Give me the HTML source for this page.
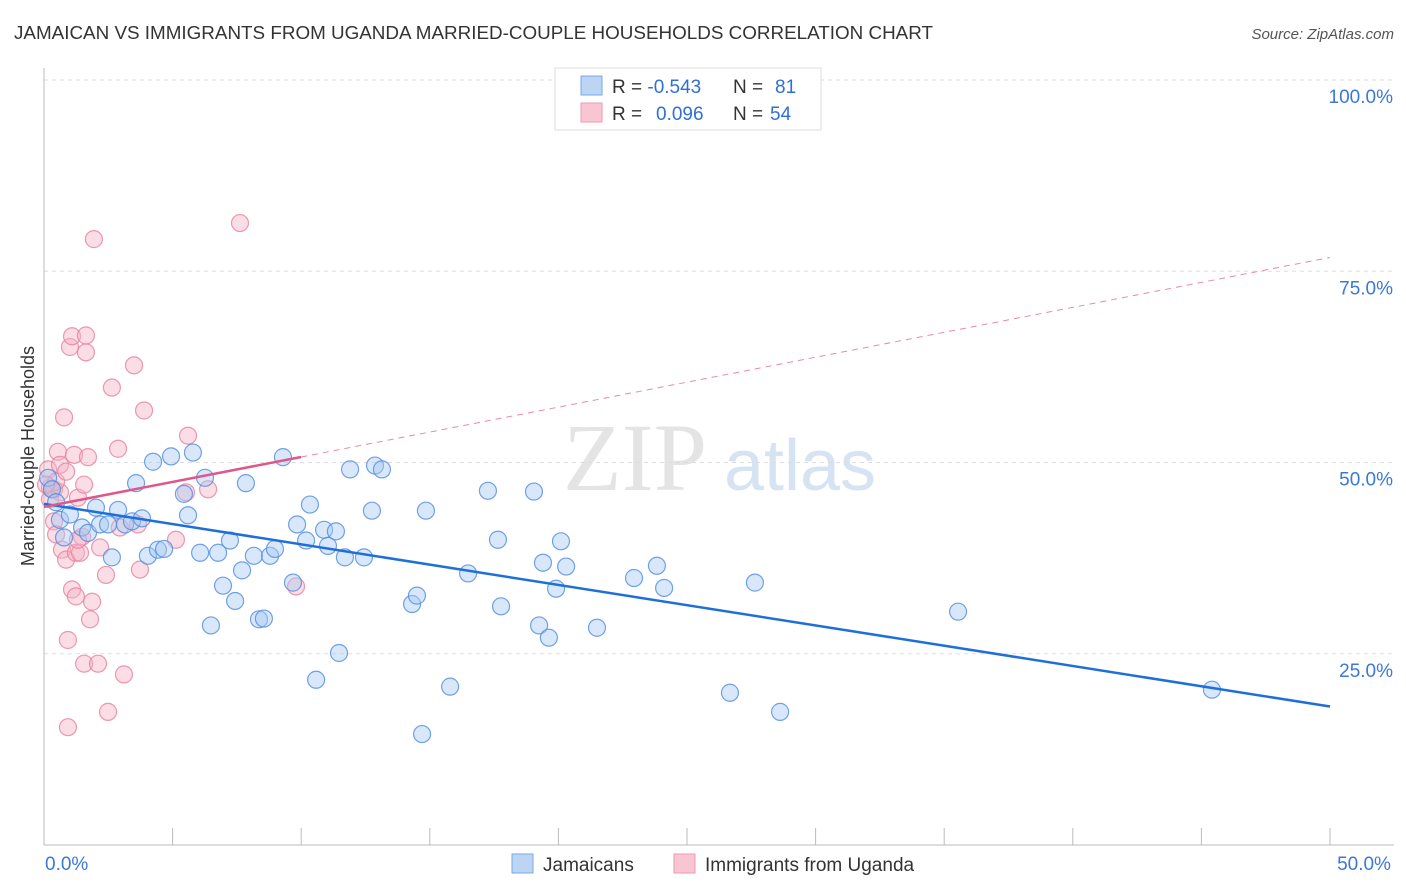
<!DOCTYPE html>
<html><head><meta charset="utf-8"><style>
body{margin:0;background:#fff;font-family:"Liberation Sans",sans-serif}
svg{display:block}
</style></head><body>
<svg id="chart" width="1406" height="892" xmlns="http://www.w3.org/2000/svg">
<text x="14" y="39" font-size="18" fill="#333" textLength="919" lengthAdjust="spacingAndGlyphs">JAMAICAN VS IMMIGRANTS FROM UGANDA MARRIED-COUPLE HOUSEHOLDS CORRELATION CHART</text>
<text x="1394" y="39" font-size="15" fill="#555" font-style="italic" text-anchor="end">Source: ZipAtlas.com</text>
<text x="635" y="490" font-size="96" fill="#e4e4e4" font-family="Liberation Serif,serif" text-anchor="middle">ZIP</text>
<text x="800" y="490" font-size="72" fill="#d6e3f3" text-anchor="middle">atlas</text>
<text transform="translate(34,456) rotate(-90)" font-size="18" fill="#333" text-anchor="middle">Married-couple Households</text>
<g id="grid"></g><g id="marks"></g><g id="lines"></g>
<g>
<rect x="555" y="68" width="266" height="62" fill="#fff" stroke="#ddd"/>
<rect x="581" y="76" width="21" height="19" fill="#bcd5f5" stroke="#7aa8e6"/>
<rect x="581" y="103" width="21" height="19" fill="#f9c5d3" stroke="#ec9ab2"/>
<text x="612" y="93" font-size="19" fill="#333">R = <tspan fill="#2f6fd6">-0.543</tspan><tspan x="733">N = </tspan><tspan x="775" fill="#2f6fd6">81</tspan></text>
<text x="612" y="120" font-size="19" fill="#333">R = <tspan x="656" fill="#2f6fd6">0.096</tspan><tspan x="733">N = </tspan><tspan x="770" fill="#2f6fd6">54</tspan></text>
</g>
<g>
<rect x="512" y="854" width="21" height="19" fill="#bcd5f5" stroke="#7aa8e6"/>
<text x="543" y="871" font-size="19" fill="#333">Jamaicans</text>
<rect x="674" y="854" width="21" height="19" fill="#f9c5d3" stroke="#ec9ab2"/>
<text x="705" y="871" font-size="19" fill="#333">Immigrants from Uganda</text>
</g>
</svg>
<script>
const yTicks=[100,75,50,25];
const yTickLabels=["100.0%","75.0%","50.0%","25.0%"];
const xTickLabels=["0.0%","50.0%"];
const blueX=[0.16,0.31,0.47,0.62,0.78,1.01,1.48,1.71,2.02,2.18,2.49,2.64,2.88,3.15,3.42,3.58,3.81,4.04,4.24,4.43,4.67,4.94,5.44,5.60,5.79,6.07,6.26,6.49,6.77,6.96,7.23,7.43,7.70,7.85,8.16,8.36,8.55,8.79,8.98,9.29,9.68,9.84,10.19,10.34,10.58,10.89,11.04,11.35,11.47,11.70,11.90,12.44,12.75,12.87,13.14,14.31,14.50,14.70,14.85,15.79,16.49,17.26,17.65,17.77,19.05,19.25,19.40,19.63,19.91,20.10,20.30,21.50,22.94,23.83,24.11,26.67,27.64,28.62,35.54,45.41];
const blueY=[48.0,46.5,44.8,42.5,40.2,43.2,41.5,40.8,44.1,41.9,41.9,37.6,43.8,41.9,42.3,47.3,42.7,37.8,50.1,38.6,38.7,50.8,45.9,43.1,51.3,38.2,48.0,28.7,38.2,33.9,39.8,31.9,35.9,47.3,37.8,29.5,29.6,37.8,38.7,50.7,34.3,41.9,39.8,44.5,21.6,41.2,39.1,41.0,25.1,37.6,49.1,37.6,43.7,49.6,49.1,31.5,32.6,14.5,43.7,20.7,35.5,46.3,39.9,31.2,46.2,28.7,36.9,27.1,33.5,39.7,36.4,28.4,34.9,36.5,33.6,19.9,34.3,17.4,30.5,20.3];
const pinkX=[0.16,0.23,0.31,0.39,0.47,0.54,0.62,0.70,0.78,0.86,0.93,1.01,1.09,1.09,1.17,1.24,1.24,1.32,1.40,1.48,1.56,1.56,1.63,1.63,1.71,1.79,1.87,1.94,2.10,2.41,2.49,2.64,2.88,2.95,3.11,3.50,3.65,3.73,3.89,5.13,5.52,5.60,6.38,7.62,9.80,0.93,0.39,0.62,0.23,0.47,2.18,0.08,1.32,0.86];
const pinkY=[49.1,46.7,46.5,42.3,40.6,51.4,49.7,38.6,55.9,37.3,26.8,65.1,66.5,33.4,51.0,32.5,38.2,45.4,38.2,40.3,47.1,23.7,64.4,66.6,50.7,29.5,31.8,79.2,23.7,35.3,17.4,59.8,51.8,41.5,22.3,62.7,41.9,36.0,56.8,39.9,46.1,53.5,46.5,81.3,33.8,15.4,46.5,46.1,45.2,47.5,38.9,47.1,39.9,48.8];
const blueFit=[44.6,18.1];
const pinkFit=[44.2,76.8];
const NS="http://www.w3.org/2000/svg";
const X0=44,X1=1330,Y0=845,Y100=80;
const sx=v=>X0+(X1-X0)*v/50;
const sy=v=>Y0-(Y0-Y100)*v/100;
function mk(tag,attrs,parent){const e=document.createElementNS(NS,tag);for(const k in attrs)e.setAttribute(k,attrs[k]);parent.appendChild(e);return e;}
const grid=document.getElementById('grid'),marks=document.getElementById('marks'),lines=document.getElementById('lines');
yTicks.forEach((t,i)=>{
 let l=mk('line',{x1:X0,x2:1394,y1:sy(t),y2:sy(t),stroke:'#ddd','stroke-dasharray':'4,4'},grid);
 
 
 let tx=mk('text',{x:1393,y:sy(t)+23,'font-size':19,fill:'#3b78d8','text-anchor':'end'},grid);tx.textContent=yTickLabels[i];
 
 
});
let ax=mk('line',{x1:X0,x2:X0,y1:68,y2:Y0,stroke:'#bbb'},grid);


let bx=mk('line',{x1:X0,x2:1394,y1:Y0,y2:Y0,stroke:'#bbb'},grid);


for(let i=0;i<=10;i++){let t=mk('line',{x1:sx(i*5),x2:sx(i*5),y1:Y0,y2:Y0-17,stroke:'#bbb'},grid);
 
 }
[[0,'start',45],[50,'middle',1364]].forEach((a,i)=>{let t=mk('text',{x:a[2],y:870,'font-size':19,fill:'#3b78d8','text-anchor':a[1]},grid);t.textContent=xTickLabels[i];
 
 });
function pts(xs,ys,fill,stroke,name){xs.forEach((x,i)=>{let c=mk('circle',{cx:sx(x),cy:sy(ys[i]),r:8.5,fill:fill,'fill-opacity':0.45,stroke:stroke,'stroke-opacity':0.8,'stroke-width':1.2},marks);
 
 });}
pts(pinkX,pinkY,'#f5b3c6','#e8809f','uganda-point');
pts(blueX,blueY,'#a9c9f2','#4f8ce0','jamaican-point');
let bl=mk('line',{x1:sx(0),y1:sy(blueFit[0]),x2:sx(50),y2:sy(blueFit[1]),stroke:'#1f6fd8','stroke-width':2.5},lines);


const py=x=>pinkFit[0]+(pinkFit[1]-pinkFit[0])*x/50;
let pl=mk('line',{x1:sx(0),y1:sy(py(0)),x2:sx(10),y2:sy(py(10)),stroke:'#e0578a','stroke-width':2.5},lines);


let pd=mk('line',{x1:sx(10),y1:sy(py(10)),x2:sx(50),y2:sy(py(50)),stroke:'#e88aa8','stroke-width':1,'stroke-dasharray':'6,5'},lines);


</script>
</body></html>
